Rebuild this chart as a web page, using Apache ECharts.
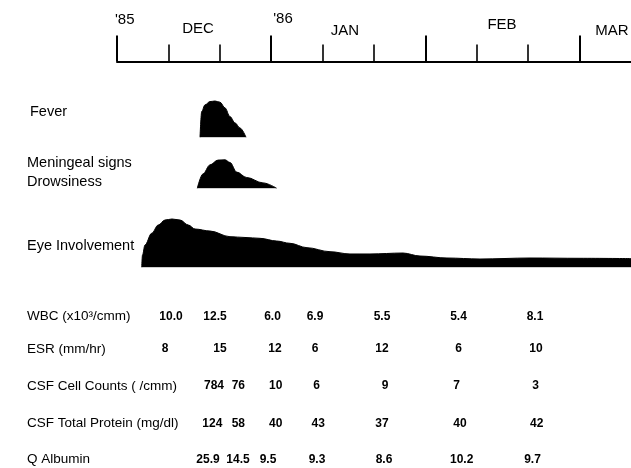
<!DOCTYPE html>
<html>
<head>
<meta charset="utf-8">
<script src="https://cdn.jsdelivr.net/npm/echarts@6/dist/echarts.min.js"></script>
<style>
html, body { margin: 0; padding: 0; background: #fff; }
#chart { width: 631px; height: 468px; }
</style>
</head>
<body>
<div id="chart"></div>
<script>
// Time is counted in thirds of a month: 0 = 1 Dec 1985, 3 = 1 Jan 1986, 6 = 1 Feb, 9 = 1 Mar.

// ---- data ----
const timeLabels = ["'85", "DEC", "'86", "JAN", "FEB", "MAR"];

// Clinical course, relative intensity (0-10)
const feverTime  = [1.615, 1.648, 1.712, 1.809, 1.907, 2.004, 2.101, 2.198, 2.296, 2.393, 2.510];
const feverLevel = [0, 4.3, 5.4, 5.95, 6.05, 5.85, 4.9, 3.45, 2.4, 1.55, 0];

const meningealTime  = [1.562, 1.673, 1.809, 1.965, 2.101, 2.198, 2.329, 2.523, 2.840, 3.107];
const meningealLevel = [0, 2.4, 3.9, 4.7, 4.75, 4.3, 2.7, 1.8, 0.9, 0];

const eyeTime  = [0.481, 0.496, 0.545, 0.675, 0.803, 0.934, 1.070, 1.226, 1.387, 1.518, 1.809, 2.198,
                  2.490, 2.782, 3.107, 3.366, 3.696, 4.144, 4.533, 4.922, 5.564, 5.895, 6.420, 7.062,
                  8.035, 9.008, 10.0];
const eyeLevel = [0, 2.05, 3.72, 5.67, 7.05, 7.88, 8.05, 7.88, 7.05, 6.38, 6.05, 5.1,
                  4.97, 4.83, 4.38, 4.0, 3.27, 2.6, 2.22, 2.22, 2.38, 1.88, 1.55, 1.38,
                  1.55, 1.5, 1.45];

// Laboratory findings
const labNames = ["WBC (x10\u00B3/cmm)", "ESR (mm/hr)", "CSF Cell Counts ( /cmm)",
                  "CSF Total Protein (mg/dl)", "Q Albumin"];
const wbc        = ["10.0", "12.5", "6.0", "6.9", "5.5", "5.4", "8.1"];
const esr        = ["8", "15", "12", "6", "12", "6", "10"];
const csfCells   = ["784", "76", "10", "6", "9", "7", "3"];
const csfProtein = ["124", "58", "40", "43", "37", "40", "42"];
const qAlbumin   = ["25.9", "14.5", "9.5", "9.3", "8.6", "10.2", "9.7"];

// Sampling times of each lab row (thirds of a month)
const wbcTime     = [1.051, 1.907, 3.025, 3.852, 5.156, 6.644, 8.132];
const esrTime     = [0.934, 2.004, 3.074, 3.852, 5.156, 6.648, 8.152];
const csfCellTime = [1.887, 2.360, 3.088, 3.885, 5.214, 6.609, 8.146];
const csfProtTime = [1.854, 2.360, 3.088, 3.916, 5.156, 6.673, 8.165];
const qAlbTime    = [1.770, 2.354, 2.938, 3.891, 5.195, 6.706, 8.084];

// ---- layout ----
const FONT = "'Liberation Sans', Arial, sans-serif";
const timeLabelAt   = [0, 1.576, 3, 4.436, 7.49, 9.63];
const timeLabelRise = [42, 33, 42.5, 31, 37, 31];     // px above the time line
const timeLabelAlign = ['left', 'center', 'left', 'center', 'center', 'center'];
const timeLabelShift = [-2, 0, 2, 0, 0, 0];
const labRowAt = [16.5, 49, 86, 123.3, 159.5];        // px below table top

const labRows = [
  [wbc, wbcTime], [esr, esrTime], [csfCells, csfCellTime],
  [csfProtein, csfProtTime], [qAlbumin, qAlbTime]
];

const labData = [];
labRows.forEach(function (row, r) {
  row[0].forEach(function (txt, i) {
    labData.push({ value: [row[1][i], labRowAt[r]], name: txt });
  });
});

function areaSeries(grid, times, levels) {
  return {
    type: 'line',
    xAxisIndex: grid, yAxisIndex: grid,
    data: times.map(function (t, i) { return [t, levels[i]]; }),
    smooth: 0.35,
    smoothMonotone: 'x',
    symbol: 'none',
    lineStyle: { color: '#000', width: 1 },
    areaStyle: { color: '#000', opacity: 1 },
    silent: true
  };
}

function hiddenX(grid, max) {
  return { gridIndex: grid, type: 'value', min: 0, max: max, show: false };
}
function hiddenY(grid, max, inverse) {
  return { gridIndex: grid, type: 'value', min: 0, max: max, show: false, inverse: !!inverse };
}

// text-only label layer (tiny invisible anchor points)
function textLayer(grid, data, size, weight) {
  return {
    type: 'scatter', xAxisIndex: grid, yAxisIndex: grid, symbolSize: 1,
    itemStyle: { color: '#fff', opacity: 1 }, silent: true, z: 5,
    data: data,
    label: {
      show: true, position: 'inside', formatter: '{b}',
      color: '#000', opacity: 1, textBorderWidth: 0, textBorderColor: 'transparent',
      fontSize: size, fontWeight: weight, fontFamily: FONT
    }
  };
}

const option = {
  animation: false,
  backgroundColor: '#fff',
  grid: [
    { left: 117, right: 0, top: 10, height: 51.5 },       // time line and month names
    { left: 117, width: 462.6, top: 20, height: 41.5 },   // month / decade ticks
    { left: 117, right: 0, top: 77.3, height: 60 },       // fever
    { left: 117, right: 0, top: 128.3, height: 60 },      // meningeal signs
    { left: 117, right: 0, top: 207.3, height: 60 },      // eye involvement
    { left: 117, right: 0, top: 300, height: 168 }        // lab table
  ],
  xAxis: [
    {
      gridIndex: 0, type: 'value', min: 0, max: 10, position: 'bottom',
      axisLine: { show: true, lineStyle: { color: '#000', width: 2 } },
      axisTick: { show: false }, axisLabel: { show: false }, splitLine: { show: false }
    },
    {
      gridIndex: 1, type: 'value', min: 0, max: 9, interval: 3, position: 'bottom',
      axisLine: { show: false },
      axisTick: { show: true, inside: true, length: 26, lineStyle: { color: '#000', width: 2 } },
      minorTick: { show: true, splitNumber: 3, length: 17, lineStyle: { color: '#000', width: 1.6 } },
      axisLabel: { show: false }, splitLine: { show: false }, minorSplitLine: { show: false }
    },
    hiddenX(2, 10), hiddenX(3, 10), hiddenX(4, 10), hiddenX(5, 10)
  ],
  yAxis: [
    hiddenY(0, 51.5), hiddenY(1, 1), hiddenY(2, 10), hiddenY(3, 10), hiddenY(4, 10), hiddenY(5, 168, true)
  ],
  series: [
    textLayer(0, timeLabels.map(function (s, i) {
      return {
        value: [timeLabelAt[i], timeLabelRise[i]], name: s,
        label: { align: timeLabelAlign[i], offset: [timeLabelShift[i], 0] }
      };
    }), 15, 'normal'),
    areaSeries(2, feverTime, feverLevel),
    areaSeries(3, meningealTime, meningealLevel),
    areaSeries(4, eyeTime, eyeLevel),
    textLayer(5, labData, 12, 'bold')
  ],
  graphic: [
    { type: 'text', x: 30, y: 112, style: { text: 'Fever', fill: '#000', font: '14.5px ' + FONT, verticalAlign: 'middle' } },
    { type: 'text', x: 27, y: 163, style: { text: 'Meningeal signs', fill: '#000', font: '14.5px ' + FONT, verticalAlign: 'middle' } },
    { type: 'text', x: 27, y: 182, style: { text: 'Drowsiness', fill: '#000', font: '14.5px ' + FONT, verticalAlign: 'middle' } },
    { type: 'text', x: 27, y: 246, style: { text: 'Eye Involvement', fill: '#000', font: '14.5px ' + FONT, verticalAlign: 'middle' } }
  ].concat(labNames.map(function (name, r) {
    return {
      type: 'text', x: 27, y: 300 + labRowAt[r],
      style: { text: name, fill: '#000', font: '13.5px ' + FONT, verticalAlign: 'middle' }
    };
  }))
};

const chart = echarts.init(document.getElementById('chart'), null, { renderer: 'canvas' });
chart.setOption(option);
</script>
</body>
</html>
